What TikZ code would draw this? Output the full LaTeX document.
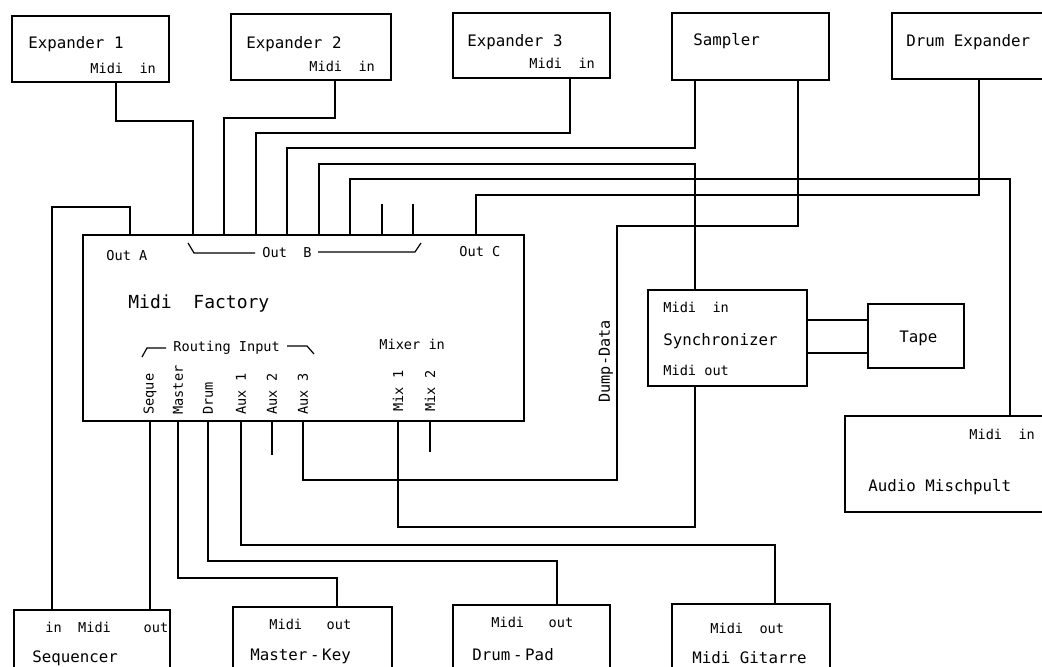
\documentclass[tikz,border=0pt]{standalone}
\usepackage{fontspec}
\setmonofont{DejaVu Sans Mono}
\usetikzlibrary{fit}

\begin{document}
\begin{tikzpicture}[x=0.5pt,y=-0.5pt,
    dev/.style={draw,line width=1.3pt,inner sep=0pt},
    wire/.style={line width=0.75pt},
    brk/.style={line width=0.6pt},
    port/.style={anchor=base west,inner sep=0pt,font=\ttfamily\fontsize{6.8}{8}\selectfont},
    devname/.style={anchor=base west,inner sep=0pt,font=\ttfamily\fontsize{7.9}{9}\selectfont},
    pin/.style={port,rotate=90,anchor=west}]
    \path[use as bounding box,clip] (0,0) rectangle (1042,667);

    % devices
    \node[dev,fit={(12,16)(169,82)}] (exa) {};
    \node[dev,fit={(231,14)(391,80)}] (exb) {};
    \node[dev,fit={(453,13)(610,78)}] (exc) {};
    \node[dev,fit={(672,13)(829,80)}] (smp) {};
    \node[dev,fit={(892,13)(1070,79)}] (dex) {};
    \node[dev,fit={(83,235)(524,421)}] (fac) {};
    \node[dev,fit={(648,290)(807,386)}] (syn) {};
    \node[dev,fit={(868,304)(964,368)}] (tape) {};
    \node[dev,fit={(845,416)(1070,512)}] (mix) {};
    \node[dev,fit={(14,610)(170,700)}] (seq) {};
    \node[dev,fit={(233,607)(392,700)}] (mkey) {};
    \node[dev,fit={(453,605)(610,700)}] (dpad) {};
    \node[dev,fit={(672,604)(830,700)}] (gtr) {};

    % texts
    \node[devname] (exaname) at (28,49) {Expander 1};
    \node[port] (exain) at (90,74) {Midi~~in};
    \node[devname] (exbname) at (246,49) {Expander 2};
    \node[port] (exbin) at (309,72) {Midi~~in};
    \node[devname] (excname) at (467,47) {Expander 3};
    \node[port] (excin) at (529,69) {Midi~~in};
    \node[devname] (smpname) at (693,46) {Sampler};
    \node[devname] (dexname) at (906,47) {Drum Expander};

    \node[port] (outa) at (106,261) {Out A};
    \node[port] (outb) at (262,258) {Out~~B};
    \node[port] (outc) at (459,257) {Out C};
    \node[anchor=base west,inner sep=0pt,font=\ttfamily\fontsize{9}{11}\selectfont] (facname) at (128,309) {Midi~~Factory};
    \node[port] (routing) at (173,352) {Routing Input};
    \node[port] (mixerin) at (379,350) {Mixer~in};
    \node[pin] (pseq) at (150,415) {Seque};
    \node[pin] (pmaster) at (178,415) {Master};
    \node[pin] (pdrum) at (208,415) {Drum};
    \node[pin] (paux1) at (241,415) {Aux 1};
    \node[pin] (paux2) at (272,415) {Aux 2};
    \node[pin] (paux3) at (303,415) {Aux 3};
    \node[pin] (pmix1) at (398,412) {Mix 1};
    \node[pin] (pmix2) at (430,412) {Mix 2};
    \node[pin,font=\ttfamily\fontsize{7.6}{9}\selectfont] (dump) at (606,403) {Dump-Data};

    \node[port] (synin) at (663,313) {Midi~~in};
    \node[devname] (synname) at (663,346) {Synchronizer};
    \node[port] (synout) at (663,376) {Midi out};
    \node[devname] (tapename) at (899,343) {Tape};
    \node[port] (mixin) at (969,439) {Midi~~in};
    \node[devname] (mixname) at (868,491) {Audio Mischpult};

    \node[port] (seqport) at (45,632) {in~~Midi~~~~out};
    \node[devname] (seqname) at (32,662) {Sequencer};
    \node[port] (mkeyport) at (269,629) {Midi~~~out};
    \node[devname] (mkeyname) at (250,660) {Master\,-\,Key};
    \node[port] (dpadport) at (491,627) {Midi~~~out};
    \node[devname] (dpadname) at (472,660) {Drum\,-\,Pad};
    \node[port] (gtrport) at (710,633) {Midi~~out};
    \node[devname] (gtrname) at (692,663) {Midi Gitarre};

    % brackets
    \draw[brk] (188,243) -- (194,253) -- (255,253);
    \draw[brk] (318,252) -- (415,252) -- (421,243);
    \draw[brk] (142,357) -- (147,348) -- (166,348);
    \draw[brk] (287,346) -- (307,346) -- (314,354);

    % stub ends
    \coordinate (stuba) at (382,204);
    \coordinate (stubb) at (413,204);
    \coordinate (stubc) at (272,455);
    \coordinate (stubd) at (430,452);

    % outputs
    \draw[wire] (seq.north -| 52,0) -- (52,207) -| (fac.north -| 130,0);
    \draw[wire] (fac.north -| 193,0) -- (193,121) -| (exa.south -| 116,0);
    \draw[wire] (fac.north -| 224,0) -- (224,118) -| (exb.south -| 335,0);
    \draw[wire] (fac.north -| 256,0) -- (256,133) -| (exc.south -| 570,0);
    \draw[wire] (fac.north -| 287,0) -- (287,148) -| (smp.south -| 695,0);
    \draw[wire] (fac.north -| 319,0) -- (319,164) -| (syn.north -| 695,0);
    \draw[wire] (fac.north -| 350,0) -- (350,179) -| (mix.north -| 1010,0);
    \draw[wire] (fac.north -| 382,0) -- (stuba);
    \draw[wire] (fac.north -| 413,0) -- (stubb);
    \draw[wire] (fac.north -| 476,0) -- (476,195) -| (dex.south -| 979,0);
    \draw[wire] (smp.south -| 798,0) -- (798,226) -| (617,480) -| (fac.south -| 303,0);
    \draw[wire] (syn.east |- 0,320) -- (tape.west |- 0,320);
    \draw[wire] (syn.east |- 0,353) -- (tape.west |- 0,353);

    % inputs
    \draw[wire] (fac.south -| 150,0) -- (seq.north -| 150,0);
    \draw[wire] (fac.south -| 178,0) -- (178,578) -| (mkey.north -| 337,0);
    \draw[wire] (fac.south -| 208,0) -- (208,561) -| (dpad.north -| 557,0);
    \draw[wire] (fac.south -| 241,0) -- (241,545) -| (gtr.north -| 775,0);
    \draw[wire] (fac.south -| 272,0) -- (stubc);
    \draw[wire] (fac.south -| 398,0) -- (398,527) -| (syn.south -| 695,0);
    \draw[wire] (fac.south -| 430,0) -- (stubd);
\end{tikzpicture}
\end{document}
